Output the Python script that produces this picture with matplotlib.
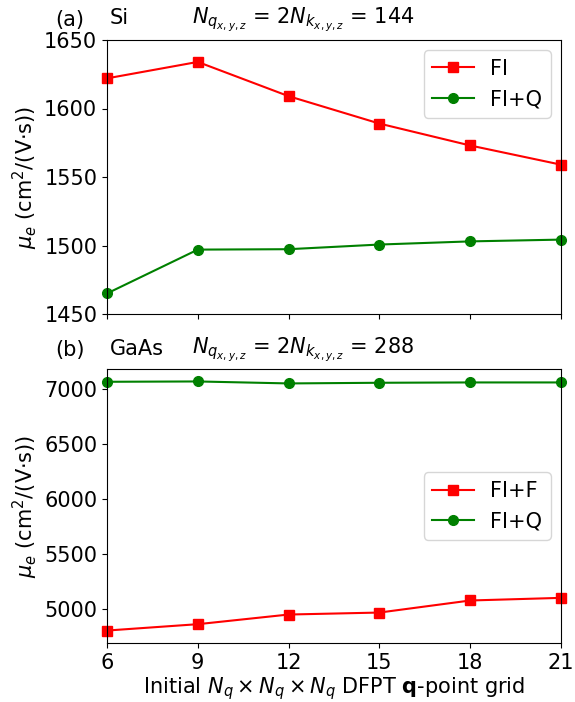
import numpy as np
import matplotlib.pyplot as plt

# --- data ---
nq = np.array([6, 9, 12, 15, 18, 21])

si_fi = np.array([1622, 1634, 1609, 1589, 1573, 1559])
si_fiq = np.array([1465, 1497, 1497.3, 1500.7, 1503, 1504.3])

gaas_fif = np.array([4802, 4860, 4948, 4966, 5076, 5100])
gaas_fiq = np.array([7070, 7073, 7055, 7061, 7064, 7064])

plt.rcParams['font.size'] = 15
plt.rcParams['mathtext.fontset'] = 'dejavusans'

W, H = 575, 702
fig = plt.figure(figsize=(W / 100, H / 100), dpi=100)
ax1 = fig.add_axes([107 / W, 1 - 314 / H, 454 / W, 274 / H])
ax2 = fig.add_axes([107 / W, 1 - 643 / H, 454 / W, 274 / H], sharex=ax1)

ylab = r'$\mu_e$ (cm$^2$/(V$\cdot$s))'

# (a) Si
ax1.plot(nq, si_fi, 'rs-', ms=7, lw=1.5, label='FI', clip_on=False)
ax1.plot(nq, si_fiq, 'o-', color='green', ms=7, lw=1.5, label='FI+Q', clip_on=False)
ax1.set_ylim(1450, 1650)
ax1.set_yticks([1450, 1500, 1550, 1600, 1650])
ax1.set_ylabel(ylab)
ax1.legend(loc='upper right')
ax1.tick_params(labelbottom=False)

# (b) GaAs
ax2.plot(nq, gaas_fif, 'rs-', ms=7, lw=1.5, label='FI+F', clip_on=False)
ax2.plot(nq, gaas_fiq, 'o-', color='green', ms=7, lw=1.5, label='FI+Q', clip_on=False)
ax2.set_yticks([5000, 5500, 6000, 6500, 7000])
ax2.set_ylabel(ylab)
ax2.legend(loc='center right')

ax2.set_xlim(6, 21)
ax2.set_xticks(nq)
ax2.set_xlabel(r'Initial $N_q\times N_q\times N_q$ DFPT $\mathbf{q}$-point grid', labelpad=1.5)

for ax in (ax1, ax2):
    ax.yaxis.set_label_coords(-0.148, 0.5)

# panel labels
fig.text(55 / W, 1 - 20 / H, '(a)', va='center', ha='left')
fig.text(110 / W, 1 - 18 / H, 'Si', va='center', ha='left')
fig.text(303 / W, 1 - 20 / H, r'$N_{q_{x,y,z}}$ = 2$N_{k_{x,y,z}}$ = 144', va='center', ha='center')

fig.text(55 / W, 1 - 350 / H, '(b)', va='center', ha='left')
fig.text(110 / W, 1 - 349 / H, 'GaAs', va='center', ha='left')
fig.text(303 / W, 1 - 350 / H, r'$N_{q_{x,y,z}}$ = 2$N_{k_{x,y,z}}$ = 288', va='center', ha='center')

fig.savefig('out.png', dpi=100)
